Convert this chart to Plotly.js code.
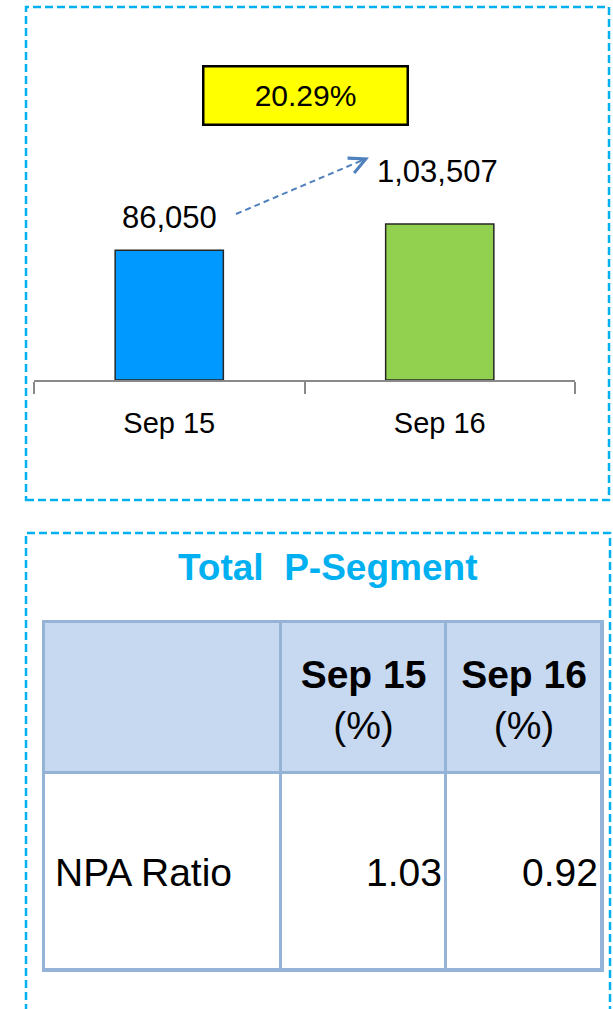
<!DOCTYPE html>
<html>
<head>
<meta charset="utf-8">
<script src="https://cdn.plot.ly/plotly-3.0.1.min.js"></script>
<style>html,body{margin:0;padding:0;background:#fff;}#chart{width:613px;height:1009px;}</style>
</head>
<body>
<div id="chart"></div>
<script>
// ---- data ----
const categories = ['Sep 15', 'Sep 16'];
const values = [86050, 103507];
const barColors = ['#0099FF', '#92D050'];
const tableTitle = 'Total\u00a0 P-Segment';
const tableColumns = ['', 'Sep 15', 'Sep 16'];
const headerUnits = ['', '(%)', '(%)'];
const tableRowLabels = ['NPA Ratio'];
const npaSep15 = [1.03];
const npaSep16 = [0.92];

// ---- table geometry (style) ----
const colWidths = [237, 165, 156];
const headerHeight = 151, rowHeight = 197;

// ---- helpers ----
const W = 613, H = 1009;
const px = x => x / W;
const py = y => 1 - y / H;
function formatIN(n) {
  const s = String(Math.round(n));
  if (s.length <= 3) return s;
  const last3 = s.slice(-3);
  let rest = s.slice(0, -3);
  const parts = [];
  while (rest.length > 2) { parts.unshift(rest.slice(-2)); rest = rest.slice(0, -2); }
  if (rest.length) parts.unshift(rest);
  return parts.join(',') + ',' + last3;
}
const growth = ((values[1] - values[0]) / values[0] * 100).toFixed(2) + '%';
const FONT = 'Arial, "Liberation Sans", sans-serif';
const labelShift = [33, 52];
const labelXShift = [0, -2];

// ---- bar chart ----
const barTrace = {
  type: 'bar', x: categories, y: values,
  marker: { color: barColors, line: { color: '#262626', width: 1.5 } },
  hoverinfo: 'none', xaxis: 'x', yaxis: 'y'
};

// ---- table (cells on their own axes) ----
const xEdges = [0];
colWidths.forEach(w => xEdges.push(xEdges[xEdges.length - 1] + w));
const nRows = tableRowLabels.length;
const yEdges = [0];
for (let i = 0; i < nRows; i++) yEdges.push(yEdges[yEdges.length - 1] + rowHeight);
yEdges.push(yEdges[yEdges.length - 1] + headerHeight);
const totalW = xEdges[xEdges.length - 1], totalH = yEdges[yEdges.length - 1];
// rows bottom-up: body rows (0 = white) then header (1 = blue)
const zCells = [];
for (let i = 0; i < nRows; i++) zCells.push(tableColumns.map(() => 0));
zCells.push(tableColumns.map(() => 1));

const gridUnder = {
  type: 'heatmap', x: xEdges, y: yEdges, z: zCells.map(r => r.map(() => 0)),
  colorscale: [[0, '#95B3D7'], [1, '#95B3D7']], showscale: false, hoverinfo: 'none',
  xaxis: 'x2', yaxis: 'y2'
};
const cellTrace = {
  type: 'heatmap', x: xEdges, y: yEdges, z: zCells,
  colorscale: [[0, '#FFFFFF'], [1, '#C6D9F1']], zmin: 0, zmax: 1,
  xgap: 3, ygap: 3, showscale: false, hoverinfo: 'none',
  xaxis: 'x2', yaxis: 'y2'
};
const colCenter = i => (xEdges[i] + xEdges[i + 1]) / 2;
const headerY = yEdges[nRows] + headerHeight / 2 - 6;
const headerText = {
  type: 'scatter', mode: 'text',
  x: [1, 2].map(colCenter), y: [headerY, headerY],
  text: [1, 2].map(i => '<b>' + tableColumns[i] + '</b><br>' + headerUnits[i]),
  textposition: 'middle center',
  textfont: { family: FONT, size: 39, color: '#000' },
  hoverinfo: 'none', xaxis: 'x2', yaxis: 'y2'
};
const bodyY = tableRowLabels.map((_, r) => yEdges[nRows - 1 - r] + rowHeight / 2 - 5);
const bodyLabelText = {
  type: 'scatter', mode: 'text',
  x: tableRowLabels.map(() => xEdges[0] + 11), y: bodyY,
  text: tableRowLabels, textposition: 'middle right',
  textfont: { family: FONT, size: 39, color: '#000' },
  hoverinfo: 'none', xaxis: 'x2', yaxis: 'y2'
};
const bodyValueText = {
  type: 'scatter', mode: 'text',
  x: [xEdges[2] - 4, xEdges[3] - 4], y: [bodyY[0], bodyY[0]],
  text: [npaSep15[0].toFixed(2), npaSep16[0].toFixed(2)], textposition: 'middle left',
  textfont: { family: FONT, size: 39, color: '#000' },
  hoverinfo: 'none', xaxis: 'x2', yaxis: 'y2'
};

// ---- annotations ----
const annotations = categories.map((c, i) => ({
  x: c, y: values[i], xref: 'x', yref: 'y',
  text: formatIN(values[i]), showarrow: false,
  xanchor: 'center', yanchor: 'middle', yshift: labelShift[i], xshift: labelXShift[i],
  font: { family: FONT, size: 31, color: '#000' }
}));
annotations.push({
  xref: 'paper', yref: 'paper', x: px(305.5), y: py(95.5),
  xanchor: 'center', yanchor: 'middle',
  text: growth, showarrow: false, width: 200, height: 54,
  bgcolor: '#FFFF00', bordercolor: '#000', borderwidth: 2.5, borderpad: 1,
  font: { family: FONT, size: 30, color: '#000' }
});
annotations.push({
  xref: 'paper', yref: 'paper', x: px(369), y: py(157.5),
  ax: -9, ay: 4, text: '', showarrow: true,
  arrowhead: 5, arrowsize: 1.6, arrowwidth: 2, arrowcolor: '#4F81BD'
});
annotations.push({
  xref: 'paper', yref: 'paper', x: px(327), y: py(567),
  xanchor: 'center', yanchor: 'middle',
  text: '<b>' + tableTitle + '</b>', showarrow: false,
  font: { family: FONT, size: 37, color: '#00B0F0' }
});

const shapes = [
  { type: 'rect', xref: 'paper', yref: 'paper', x0: px(26), x1: px(609), y0: py(500), y1: py(7),
    line: { color: '#00B0F0', width: 2.5, dash: '8px,4px' } },
  { type: 'rect', xref: 'paper', yref: 'paper', x0: px(26), x1: px(610), y0: py(1030), y1: py(533),
    line: { color: '#00B0F0', width: 2.5, dash: '8px,4px' } },
  { type: 'line', xref: 'paper', yref: 'paper', x0: px(236), y0: py(214), x1: px(364), y1: py(159.5),
    line: { color: '#4F81BD', width: 2, dash: '6px,4px' } }
];

const hiddenAxis = { showgrid: false, zeroline: false, showticklabels: false, ticks: '', fixedrange: true };

const layout = {
  width: W, height: H,
  margin: { l: 0, r: 0, t: 0, b: 0 },
  paper_bgcolor: '#fff', plot_bgcolor: 'rgba(0,0,0,0)',
  showlegend: false,
  bargap: 0.6,
  font: { family: FONT },
  xaxis: {
    domain: [px(34), px(575)], type: 'category',
    showline: true, linecolor: '#898989', linewidth: 2,
    ticks: 'outside', tickson: 'boundaries', ticklen: 12, tickwidth: 2, tickcolor: '#898989',
    ticklabelstandoff: 16,
    tickfont: { family: FONT, size: 29, color: '#000' },
    showgrid: false, zeroline: false, fixedrange: true
  },
  yaxis: {
    domain: [py(380), py(30)], range: [0, 232200],
    visible: false, showgrid: false, zeroline: false, fixedrange: true
  },
  xaxis2: Object.assign({}, hiddenAxis, {
    domain: [px(44), px(602)], range: [0, totalW], anchor: 'y2',
    showline: true, mirror: true, linecolor: '#95B3D7', linewidth: 2
  }),
  yaxis2: Object.assign({}, hiddenAxis, {
    domain: [py(970), py(622)], range: [0, totalH], anchor: 'x2',
    showline: true, mirror: true, linecolor: '#95B3D7', linewidth: 2
  }),
  annotations: annotations,
  shapes: shapes
};

Plotly.newPlot('chart',
  [barTrace, gridUnder, cellTrace, headerText, bodyLabelText, bodyValueText],
  layout, { staticPlot: true, displayModeBar: false });
</script>
</body>
</html>
